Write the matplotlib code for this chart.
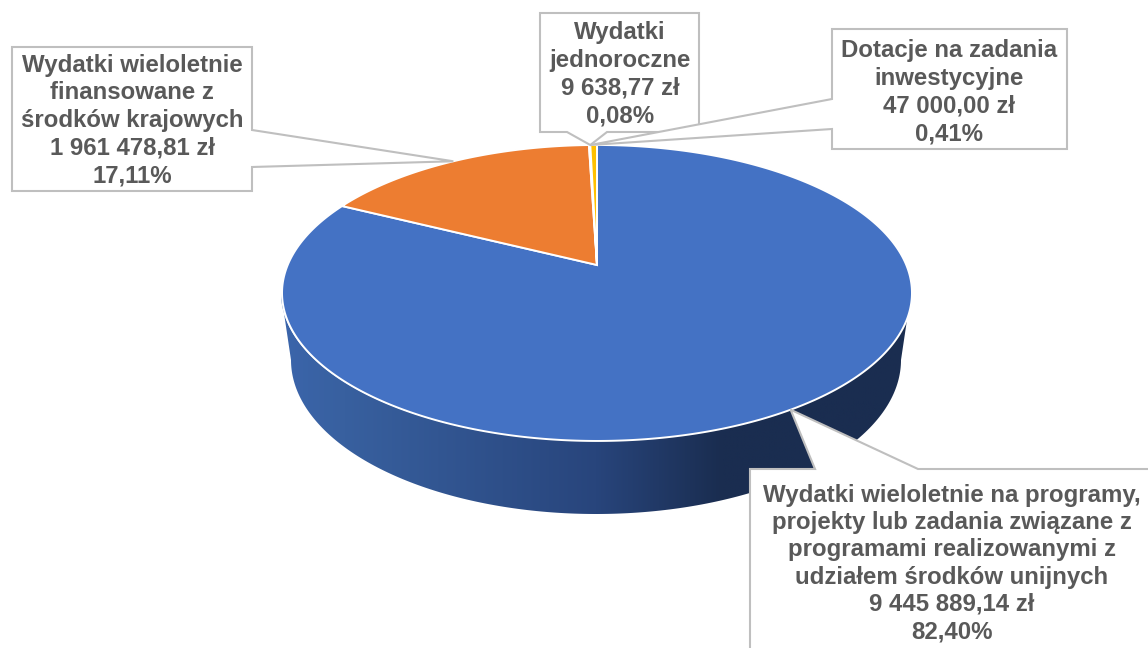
import numpy as np
import matplotlib
matplotlib.use('Agg')
import matplotlib.pyplot as plt
from matplotlib.colors import LinearSegmentedColormap
from matplotlib.patches import Polygon

plt.rcParams['font.family'] = ['Liberation Sans', 'DejaVu Sans']

values = [9445889.14, 1961478.81, 9638.77, 47000.00]
slice_colors = ['#4472C4', '#ED7D31', '#A5A5A5', '#FFC000']
labels = [
    'Wydatki wieloletnie na programy,\nprojekty lub zadania związane z\nprogramami realizowanymi z\nudziałem środków unijnych\n9 445 889,14 zł\n82,40%',
    'Wydatki wieloletnie\nfinansowane z\nśrodków krajowych\n1 961 478,81 zł\n17,11%',
    'Wydatki\njednoroczne\n9 638,77 zł\n0,08%',
    'Dotacje na zadania\ninwestycyjne\n47 000,00 zł\n0,41%',
]

# pie is a circle seen in perspective, k makes the front bigger than the back
cx, cy = 597, 265
rx, ry, k = 309.3, 142.7, 0.189


def project(theta):
    '''clockwise angle from 12 o'clock -> pixel position on the top face'''
    u, v = np.sin(theta), np.cos(theta)
    w = 1 + k * v
    return cx + rx * u / w, cy - ry * v / w


fig = plt.figure(figsize=(11.48, 6.48), dpi=100)
ax = fig.add_axes([0, 0, 1, 1])
ax.set_xlim(0, 1148)
ax.set_ylim(648, 0)
ax.axis('off')

# side of the pie, only the front of it can be seen
t = np.linspace(0, np.pi, 200)
top_x, top_y = 596 + 315 * np.cos(t), 293 + 148 * np.sin(t)
low_x, low_y = 596 + 305 * np.cos(t), 360 + 154 * np.sin(t)
side = Polygon(np.vstack([np.column_stack([top_x, top_y]),
                          np.column_stack([low_x[::-1], low_y[::-1]])]),
               closed=True, facecolor='none', edgecolor='none')
ax.add_patch(side)
side_cmap = LinearSegmentedColormap.from_list(
    'side', [(0, '#3B65AB'), (0.1, '#38609F'), (0.5, '#28457C'), (0.7, '#1A2D50'), (1, '#1A2D50')])
img = ax.imshow(np.linspace(0, 1, 256).reshape(1, -1), cmap=side_cmap, aspect='auto',
                extent=(281, 911, 514, 293), zorder=1)
img.set_clip_path(side)
ax.set_xlim(0, 1148)
ax.set_ylim(648, 0)

# top face
angles = np.concatenate([[0], np.cumsum(values)]) / np.sum(values) * 2 * np.pi
for i in range(len(values)):
    t = np.linspace(angles[i], angles[i + 1], max(3, int(400 * (angles[i + 1] - angles[i]))))
    x, y = project(t)
    ax.add_patch(Polygon(np.column_stack([np.r_[cx, x], np.r_[cy, y]]), closed=True,
                         facecolor=slice_colors[i], edgecolor='white', linewidth=1.4, zorder=2))

mid = [project((angles[i] + angles[i + 1]) / 2) for i in range(len(values))]
tip_small = project(angles[3])

# callouts: box outline with a pointer going to its slice
callouts = [
    [(1160, 469), (918, 469), mid[0], (815, 469), (750, 469), (750, 660), (1160, 660)],
    [(12, 47), (252, 47), (252, 130), mid[1], (252, 167), (252, 191), (12, 191)],
    [(540, 13), (699, 13), (699, 132), (607, 132), tip_small, (567, 132), (540, 132)],
    [(832, 29), (1067, 29), (1067, 149), (832, 149), (832, 129), tip_small, (832, 99)],
]
text_pos = [(952, 563.5), (132, 120.5), (620, 74.5), (949, 92.5)]
spacing = [1.235, 1.26, 1.26, 1.26]
for pts, label, pos, sp in zip(callouts, labels, text_pos, spacing):
    ax.add_patch(Polygon(pts, closed=True, facecolor='white', edgecolor='#BFBFBF',
                         linewidth=1.5, zorder=3, joinstyle='miter'))
    ax.text(pos[0], pos[1], label, ha='center', va='center', fontsize=17.3, fontweight='bold',
            color='#595959', linespacing=sp, zorder=4)

fig.savefig('out.png', dpi=100)
